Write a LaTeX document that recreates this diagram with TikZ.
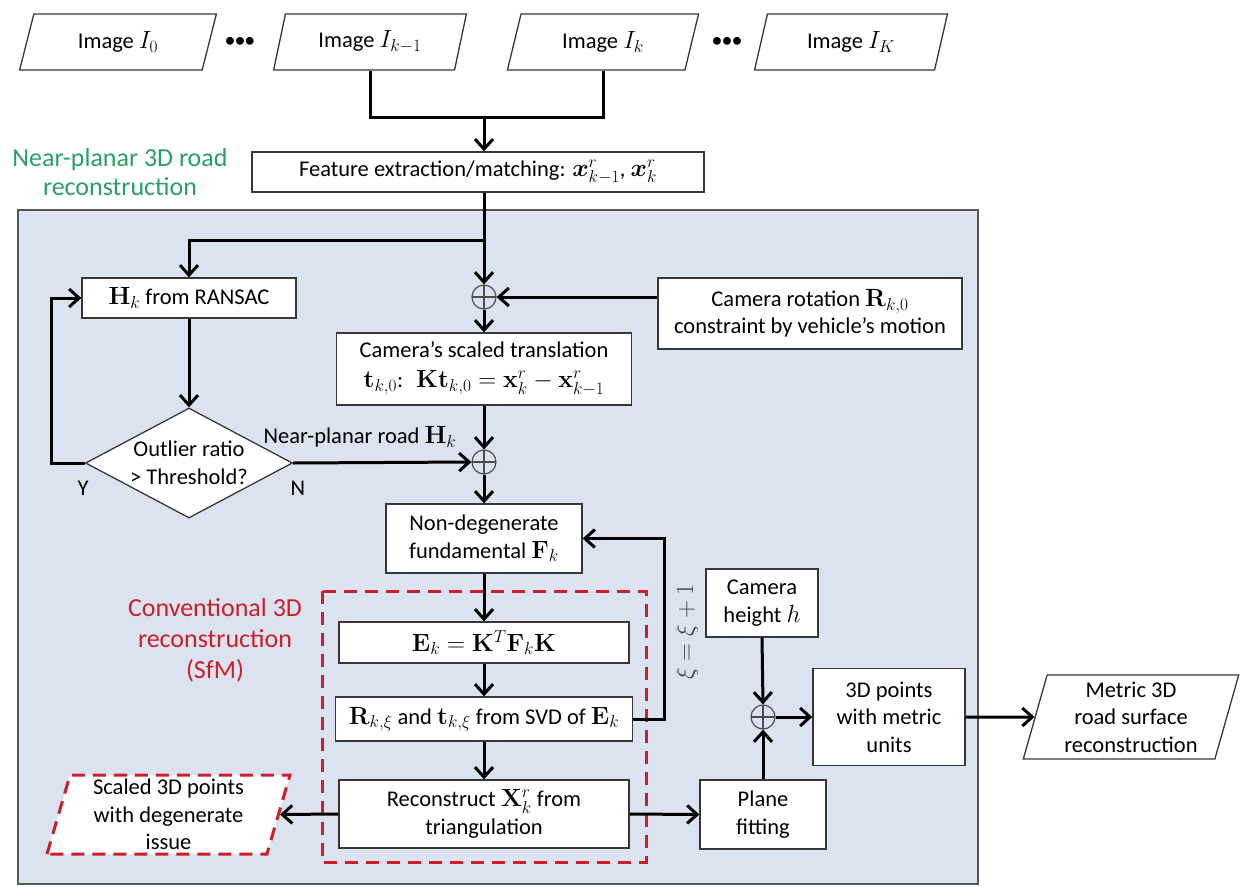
\documentclass[tikz,border=0pt]{standalone}
\usepackage[no-math]{fontspec}
\setmainfont{Carlito}
\usepackage{amsmath}
\usepackage{bm}
\usetikzlibrary{arrows.meta,shapes.geometric,calc}
\DeclareMathSizes{22.5}{23}{17}{13}

\definecolor{panelblue}{RGB}{219,227,241}
\definecolor{panelline}{RGB}{85,85,85}
\definecolor{boxline}{RGB}{55,55,55}
\definecolor{sfmred}{RGB}{205,30,40}
\definecolor{roadgreen}{RGB}{40,160,100}

\tikzset{
  base/.style={font=\fontsize{22.5}{27.5}\selectfont, align=center},
  box/.style={base, rectangle, draw=boxline, line width=1.3pt, fill=white, inner sep=2pt},
  data/.style={base, trapezium, trapezium left angle=72, trapezium right angle=108,
    trapezium stretches=true, draw=boxline, line width=1.3pt, fill=white, inner sep=0pt},
  test/.style={base, diamond, draw=boxline, line width=1.3pt, fill=white, inner sep=0pt, aspect=1.88},
  oplus/.style={circle, draw=black!70, line width=1.2pt, minimum size=24pt, inner sep=0pt,
    path picture={\draw[black!70, line width=1.2pt]
      (path picture bounding box.north) -- (path picture bounding box.south)
      (path picture bounding box.west) -- (path picture bounding box.east);}},
  link/.style={line width=3pt},
  flow/.style={line width=3pt, -{Straight Barb[length=10pt,width=18pt]}},
  grouptitle/.style={font=\fontsize{26}{31}\selectfont, align=center},
  ellipsisdots/.style={font=\fontsize{22}{22}\selectfont},
}

\begin{document}
\begin{tikzpicture}[x=1pt, y=-1pt]
\useasboundingbox (0,0) rectangle (1241,886);

% background panel of the near-planar pipeline
\draw[panelline, line width=1.2pt, fill=panelblue] (18,210) rectangle (978,884);

% dashed frame of the conventional SfM steps
\draw[sfmred, line width=3pt, dash pattern=on 13pt off 8pt] (322,591) rectangle (646,862);

% input images
\node[data, minimum width=198pt, minimum height=56pt] (img0) at (118,42) {Image $I_0$};
\node[ellipsisdots] (dots1) at (240,42) {•\kern-1pt•\kern-1pt•};
\node[data, minimum width=193pt, minimum height=56pt] (imgk1) at (370,42) {Image $I_{k-1}$};
\node[data, minimum width=193pt, minimum height=56pt] (imgk) at (603,42) {Image $I_k$};
\node[ellipsisdots] (dots2) at (727,42) {•\kern-1pt•\kern-1pt•};
\node[data, minimum width=193pt, minimum height=56pt] (imgK) at (851,42) {Image $I_K$};

\coordinate (junc) at (484,117);
\node[box, minimum width=452pt, minimum height=40pt] (feat) at (478,172)
  {Feature extraction/matching: $\bm{x}^r_{k-1}$, $\bm{x}^r_k$};

\node[grouptitle, text=roadgreen, font=\fontsize{26}{29}\selectfont] (title) at (120,172)
  {Near-planar 3D road\\reconstruction};

% homography branch
\coordinate (branch) at (484,240);
\node[box, minimum width=214pt, minimum height=40pt] (hk) at (189,298) {$\mathbf{H}_k$ from RANSAC};
\node[test, minimum width=207pt, minimum height=110pt] (test) at (189,463) {Outlier ratio\\> Threshold?};
\coordinate (ycorner) at (51,463);
\node[base] (ylbl) at (83,488) {Y};
\node[base] (nlbl) at (298,488) {N};
\node[base] (nearlbl) at (360,437) {Near-planar road $\mathbf{H}_k$};

% translation from rotation constraint
\node[oplus] (sum1) at (484,297) {};
\node[box, minimum width=304pt, minimum height=71pt] (rot) at (810,313.5)
  {Camera rotation $\mathbf{R}_{k,0}$\\constraint by vehicle’s motion};
\node[box, minimum width=295pt, minimum height=72pt] (trans) at (484,369)
  {Camera’s scaled translation\\[2pt]$\mathbf{t}_{k,0}$:\; $\mathbf{K}\mathbf{t}_{k,0} = \mathbf{x}^r_k - \mathbf{x}^r_{k-1}$};
\node[oplus] (sum2) at (484,462) {};

\node[box, minimum width=196pt, minimum height=69pt] (nondeg) at (484,538.5)
  {Non-degenerate\\fundamental $\mathbf{F}_k$};

% conventional SfM
\node[grouptitle, text=sfmred] (sfmlbl) at (215,640) {Conventional 3D\\reconstruction\\(SfM)};
\node[box, minimum width=290pt, minimum height=41pt] (ek) at (484,642.5)
  {$\mathbf{E}_k = \mathbf{K}^T\mathbf{F}_k\mathbf{K}$};
\node[box, minimum width=297pt, minimum height=44pt] (rt) at (484,719)
  {$\mathbf{R}_{k,\xi}$ and $\mathbf{t}_{k,\xi}$ from SVD of $\mathbf{E}_k$};
\node[box, minimum width=290pt, minimum height=68pt] (rec) at (484,814)
  {Reconstruct $\mathbf{X}^r_k$ from\\triangulation};
\node[data, trapezium left angle=76, trapezium right angle=104, draw=sfmred, line width=3pt,
  dash pattern=on 13pt off 8pt, minimum width=243pt, minimum height=79pt] (scaled) at (168.5,814.5)
  {Scaled 3D points\\with degenerate\\issue};

\coordinate (loop) at (664,719);
\node[base, rotate=90, text=black!75] (xilbl) at (687,632) {$\xi = \xi + 1$};

% metric scale recovery
\node[box, minimum width=112pt, minimum height=68pt] (height) at (762,603) {Camera\\height $h$};
\node[oplus] (sum3) at (763,717) {};
\node[box, minimum width=126pt, minimum height=69pt] (plane) at (763,814.5) {Plane\\fitting};
\node[box, minimum width=152pt, minimum height=97pt] (pts) at (889,717) {3D points\\with metric\\units};
\node[data, trapezium left angle=75, trapezium right angle=105,
  minimum width=216pt, minimum height=84pt] (metric) at (1131,717)
  {Metric 3D\\road surface\\reconstruction};

% connectors
\draw[link] (imgk1.center |- imgk1.south) |- (junc) -| (imgk.center |- imgk.south);
\draw[flow] (junc) -- (junc |- feat.north);
\draw[flow] (feat.south -| junc) -- (sum1.north);
\draw[flow] (branch) -| (hk.north);
\draw[flow] (rot.west |- sum1) -- (sum1.east);
\draw[flow] (sum1.south) -- (trans.north -| sum1);
\draw[flow] (trans.south -| sum2) -- (sum2.north);
\draw[flow] (hk.south) -- (test.north);
\draw[flow] (test.west) -- (ycorner) |- (hk.west);
\draw[flow] (test.east) -- (sum2.west);
\draw[flow] (sum2.south) -- (nondeg.north -| sum2);
\draw[flow] (nondeg.south) -- (ek.north);
\draw[flow] (ek.south) -- (rt.north);
\draw[flow] (rt.south) -- (rec.north);
\draw[flow] (rt.east) -- (loop) |- (nondeg.east);
\draw[flow] (rec.west) -- (scaled.east);
\draw[flow] (rec.east) -- (plane.west);
\draw[flow] (height.south) -- (sum3.north);
\draw[flow] (plane.north) -- (sum3.south);
\draw[flow] (sum3.east) -- (pts.west);
\draw[flow] (pts.east) -- (metric.west);
\end{tikzpicture}
\end{document}
